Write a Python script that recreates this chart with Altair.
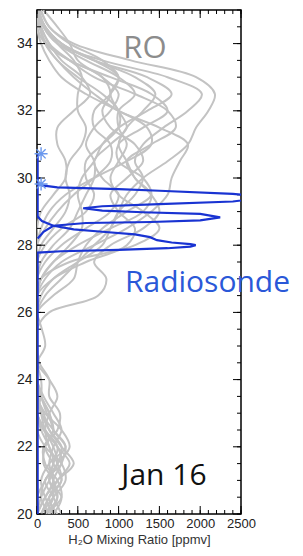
import altair as alt
import pandas as pd

# ---------------- data ----------------
ALTS = [20.0, 20.5, 21.0, 21.5, 22.0, 22.5, 23.0, 23.5, 24.0, 24.5, 25.0,
        25.5, 26.0, 26.5, 27.0, 27.5, 28.0, 28.5, 29.0, 29.5, 30.0, 30.5,
        31.0, 31.5, 32.0, 32.5, 33.0, 33.5, 34.0, 34.5, 35.0]

RO_PROFILES = {
    "p01": [150, 250, 150, 250, 200, 100, 50, 20, 0, 0, 0, 0, 0, 100, 300, 500, 700, 900, 1000, 1100, 1300, 1600, 1850, 1950, 2100, 2180, 1950, 1150, 450, 150, 40],
    "p02": [50, 150, 300, 200, 100, 200, 150, 50, 0, 0, 0, 0, 0, 50, 200, 500, 800, 900, 1000, 1200, 1300, 1200, 1300, 1550, 1850, 2020, 1600, 800, 250, 80, 20],
    "p03": [0, 100, 250, 450, 300, 150, 80, 0, 0, 0, 0, 0, 0, 0, 100, 300, 700, 1100, 1400, 1600, 1650, 1750, 1850, 1500, 1000, 700, 450, 250, 100, 30, 0],
    "p04": [200, 100, 50, 150, 350, 200, 50, 0, 0, 0, 0, 0, 150, 750, 850, 700, 900, 1300, 1500, 1400, 1200, 1100, 1000, 1100, 1300, 1450, 1200, 700, 300, 100, 0],
    "p05": [100, 300, 250, 100, 80, 250, 280, 150, 150, 30, 0, 0, 0, 0, 200, 600, 1100, 1200, 1000, 900, 1100, 1300, 1200, 900, 800, 900, 800, 400, 100, 0, 0],
    "p06": [300, 200, 100, 300, 250, 80, 0, 50, 50, 0, 0, 0, 0, 0, 50, 200, 500, 900, 1300, 1400, 1200, 1100, 1400, 1700, 1600, 1200, 700, 400, 150, 50, 0],
    "p07": [0, 50, 150, 250, 400, 300, 100, 0, 0, 0, 100, 60, 0, 0, 50, 400, 1200, 1500, 1300, 1000, 900, 1000, 1100, 1000, 1000, 1200, 1000, 600, 250, 80, 20],
    "p08": [250, 150, 300, 250, 150, 100, 150, 250, 150, 0, 0, 0, 0, 200, 450, 500, 600, 800, 1100, 1400, 1300, 1000, 1000, 1300, 1600, 1400, 900, 400, 120, 30, 0],
    "p09": [50, 200, 350, 300, 100, 0, 0, 0, 0, 0, 0, 0, 0, 0, 0, 100, 300, 600, 900, 1000, 800, 700, 900, 1100, 1000, 900, 1000, 800, 400, 150, 50],
    "p10": [150, 50, 100, 250, 300, 150, 50, 0, 0, 0, 0, 0, 0, 0, 0, 50, 200, 400, 500, 600, 700, 700, 600, 700, 900, 1000, 800, 500, 400, 250, 80],
    "p11": [0, 100, 200, 150, 200, 300, 200, 80, 0, 0, 0, 0, 0, 0, 0, 0, 100, 300, 600, 700, 600, 600, 800, 1000, 1000, 800, 500, 250, 100, 40, 0],
    "p12": [100, 250, 200, 80, 100, 200, 120, 50, 0, 0, 0, 0, 0, 0, 0, 0, 50, 200, 350, 400, 350, 400, 550, 600, 500, 500, 550, 450, 250, 100, 20],
    "p13": [200, 300, 150, 200, 250, 100, 0, 0, 0, 0, 0, 0, 0, 0, 0, 0, 0, 100, 250, 450, 700, 900, 900, 700, 700, 900, 1000, 700, 300, 100, 0],
    "p14": [50, 150, 250, 400, 250, 100, 0, 0, 0, 0, 0, 0, 0, 0, 0, 0, 0, 50, 150, 350, 700, 1100, 1400, 1350, 1000, 600, 300, 150, 50, 0, 0],
    "p15": [0, 0, 100, 200, 150, 50, 0, 0, 0, 0, 0, 0, 0, 0, 0, 0, 0, 0, 50, 200, 350, 350, 250, 250, 450, 650, 550, 300, 150, 50, 0],
    "p16": [100, 200, 200, 300, 350, 200, 150, 50, 0, 0, 0, 0, 0, 0, 50, 200, 400, 550, 550, 500, 550, 700, 800, 1000, 1350, 1650, 1350, 700, 300, 100, 0],
}

# radiosonde path, two segments
SONDE_A_PPMV = [8, 8, 300, 1000, 1600, 1880, 1945, 1880, 1650, 1470, 1385, 1200, 800, 450, 200, 60, 8, 8]
SONDE_A_ALT = [20.0, 27.78, 27.82, 27.86, 27.91, 27.96, 28.0, 28.03, 28.08, 28.15, 28.24, 28.32, 28.4, 28.47, 28.58, 28.72, 28.85, 30.72]
SONDE_B_PPMV = [8, 80, 200, 600, 1400, 2000, 2245, 2000, 1300, 800, 566, 800, 1500, 2400, 2800, 2400, 1500, 1000, 250, 60, 15]
SONDE_B_ALT = [28.2, 28.4, 28.58, 28.66, 28.69, 28.74, 28.83, 28.93, 28.98, 29.03, 29.1, 29.16, 29.22, 29.3, 29.42, 29.53, 29.62, 29.67, 29.72, 29.78, 29.82]

STAR_PPMV = [50, 50]
STAR_ALT = [29.82, 30.72]

X_LABELS = [0, 500, 1000, 1500, 2000, 2500]
Y_LABELS = [20, 22, 24, 26, 28, 30, 32, 34]
X_MINOR = list(range(0, 2501, 100))
Y_MINOR = [20 + 0.5 * i for i in range(31)]

ANNOT_TEXT = ["RO", "Radiosonde", "Jan 16"]
ANNOT_PPMV = [1323, 1078, 1556]
ANNOT_ALT = [33.58, 26.61, 20.86]

# ---------------- frames ----------------
ro_rows = []
for name, vals in RO_PROFILES.items():
    for a, v in zip(ALTS, vals):
        ro_rows.append({"profile": name, "alt": a, "ppmv": v})
ro_df = pd.DataFrame(ro_rows)

sonde_rows = []
for i, (v, a) in enumerate(zip(SONDE_A_PPMV, SONDE_A_ALT)):
    sonde_rows.append({"seg": "A", "idx": i, "ppmv": v, "alt": a})
for i, (v, a) in enumerate(zip(SONDE_B_PPMV, SONDE_B_ALT)):
    sonde_rows.append({"seg": "B", "idx": i, "ppmv": v, "alt": a})
sonde_df = pd.DataFrame(sonde_rows)
star_df = pd.DataFrame({"ppmv": STAR_PPMV, "alt": STAR_ALT})

W, H = 204, 504
xs = alt.Scale(domain=[0, 2500], nice=False, zero=False)
ys = alt.Scale(domain=[20, 35], nice=False, zero=False)

LABEL_FONT = "Liberation Sans"

x_axis = alt.Axis(values=X_LABELS, format="d", ticks=False, domain=False, grid=False,
                  labelPadding=3, labelFontSize=13, labelFont=LABEL_FONT,
                  labelColor="#222", labelFlush=False,
                  title="H\u2082O Mixing Ratio [ppmv]", titleFont=LABEL_FONT,
                  titleFontSize=13, titleFontWeight="normal", titleColor="#333",
                  titlePadding=3)
y_axis = alt.Axis(values=Y_LABELS, format="d", ticks=False, domain=False, grid=False,
                  labelPadding=5, labelFontSize=14, labelFont=LABEL_FONT,
                  labelColor="#222", labelFlush=False, title="")


def X():
    return alt.X("ppmv:Q", scale=xs, axis=x_axis)


def Y():
    return alt.Y("alt:Q", scale=ys, axis=y_axis)


grey = alt.Chart(ro_df).mark_line(color="#c3c3c3", strokeWidth=2,
                                  interpolate="catmull-rom", clip=True).encode(
    x=X(), y=Y(), detail="profile:N", order="alt:Q")

blue = alt.Chart(sonde_df).mark_line(color="#1933d2", strokeWidth=2.2, clip=True).encode(
    x=X(), y=Y(), detail="seg:N", order="idx:Q")

stars = alt.Chart(star_df).mark_point(
    shape="M-1,0L1,0M0,-1L0,1M-0.7,-0.7L0.7,0.7M-0.7,0.7L0.7,-0.7",
    filled=False, size=170, strokeWidth=1.4, color="#6a98ee", opacity=1,
).encode(x=X(), y=Y())


def tick_layer(values, channel, length, side):
    m = alt.Chart(pd.DataFrame({("ppmv" if channel == "x" else "alt"): values})).mark_rule(
        color="black", strokeWidth=1)
    if channel == "x":
        if side == "bottom":
            return m.encode(x=X(), y=alt.value(H), y2=alt.value(H - length))
        return m.encode(x=X(), y=alt.value(0), y2=alt.value(length))
    if side == "left":
        return m.encode(y=Y(), x=alt.value(0), x2=alt.value(length))
    return m.encode(y=Y(), x=alt.value(W), x2=alt.value(W - length))


ticks = [
    tick_layer(X_MINOR, "x", 4, "bottom"), tick_layer(X_LABELS, "x", 8, "bottom"),
    tick_layer(X_MINOR, "x", 4, "top"), tick_layer(X_LABELS, "x", 8, "top"),
    tick_layer(Y_MINOR, "y", 4, "left"), tick_layer(Y_LABELS, "y", 8, "left"),
    tick_layer(Y_MINOR, "y", 4, "right"), tick_layer(Y_LABELS, "y", 8, "right"),
]

annot_df = pd.DataFrame({"label": ANNOT_TEXT, "ppmv": ANNOT_PPMV, "alt": ANNOT_ALT})
ro_text = alt.Chart(annot_df).transform_filter(alt.datum.label == "RO").mark_text(
    font="Open Sans", fontSize=31, color="#8c8c8c", align="center", baseline="alphabetic"
).encode(x=X(), y=Y(), text="label:N")
rs_text = alt.Chart(annot_df).transform_filter(alt.datum.label == "Radiosonde").mark_text(
    font="Open Sans", fontSize=30, color="#2a58d8", align="left", baseline="alphabetic"
).encode(x=X(), y=Y(), text="label:N")
jan_text = alt.Chart(annot_df).transform_filter(alt.datum.label == "Jan 16").mark_text(
    font="Open Sans", fontSize=30, color="#111", align="center", baseline="alphabetic"
).encode(x=X(), y=Y(), text="label:N")

chart = alt.layer(grey, *ticks, blue, stars, ro_text, rs_text, jan_text).properties(
    width=W, height=H,
    padding={"left": 29, "top": 2, "right": 54, "bottom": 34},
    autosize=alt.AutoSizeParams(type="none"),
).configure_view(stroke="black", strokeWidth=1.5)

chart.save("out.html", embed_options={"renderer": "svg", "actions": False})
